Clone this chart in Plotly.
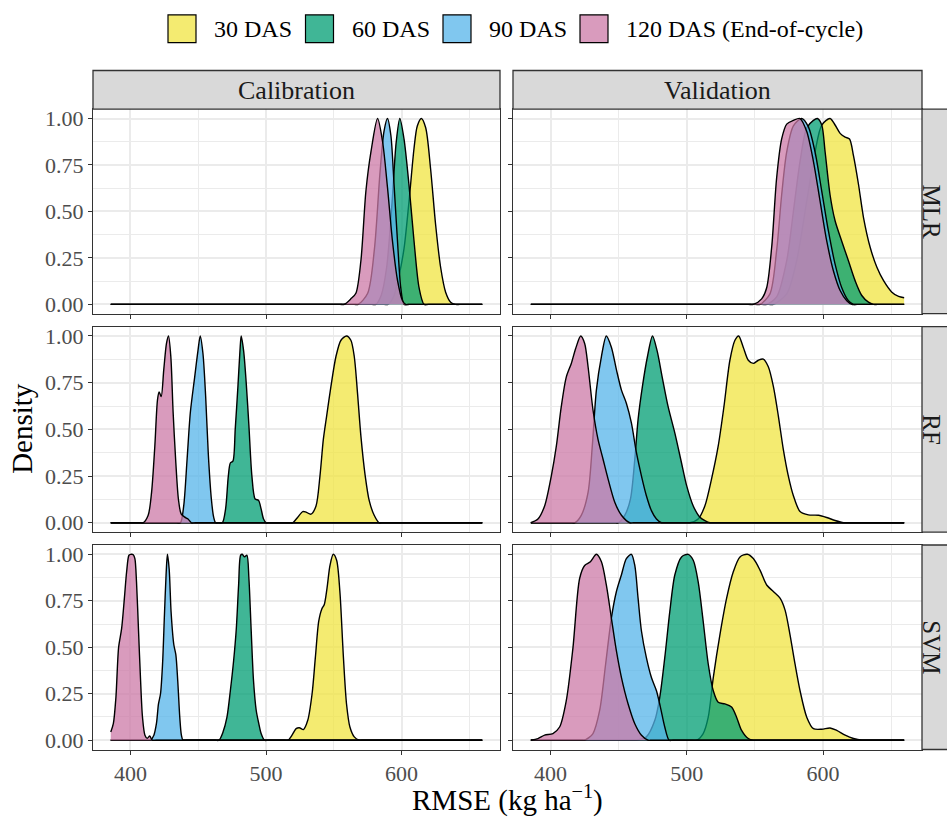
import plotly.graph_objects as go

# ---------------- data ----------------
groups = ["30 DAS", "60 DAS", "90 DAS", "120 DAS (End-of-cycle)"]
colors = ["#F0E442", "#009E73", "#56B4E9", "#CC79A7"]
models = ["MLR", "RF", "SVM"]
datasets = ["Calibration", "Validation"]
x_ticks = [400, 500, 600]
x_minor = [450, 550, 650]
y_ticks = [0, 0.25, 0.5, 0.75, 1.0]
y_tick_labels = ["0.00", "0.25", "0.50", "0.75", "1.00"]
y_minor = [0.125, 0.375, 0.625, 0.875]

# MLR - Calibration
mlr_cal_30_x = [385.5, 587, 590, 594, 598, 601.8, 605.5, 609.2, 611.6, 614.6, 617.8, 621.4, 625.1, 628.8, 632.5, 636.2, 639.8, 643, 659.5]
mlr_cal_30_y = [0, 0, 0, 0.04, 0.15, 0.3, 0.555, 0.84, 0.96, 1.0, 0.95, 0.73, 0.43, 0.2, 0.066, 0.012, 0, 0, 0]
mlr_cal_60_x = [385.5, 578, 581, 585, 589, 593, 596, 598.7, 601.8, 605.5, 609.2, 612.9, 616.6, 620, 659.5]
mlr_cal_60_y = [0, 0, 0, 0.05, 0.2, 0.55, 0.87, 1.0, 0.89, 0.64, 0.34, 0.09, 0, 0, 0]
mlr_cal_90_x = [385.5, 565, 568, 575, 580, 584, 587, 589.6, 592.1, 594.5, 597.0, 599.4, 601.8, 605, 659.5]
mlr_cal_90_y = [0, 0, 0, 0.06, 0.3, 0.7, 0.93, 1.0, 0.91, 0.64, 0.34, 0.09, 0, 0, 0]
mlr_cal_120_x = [385.5, 554.5, 557.7, 562.6, 566.3, 570.0, 573.7, 577.4, 582.3, 586.0, 589.6, 593.3, 597.0, 600.7, 603.1, 606, 659.5]
mlr_cal_120_y = [0, 0, 0, 0.03, 0.06, 0.235, 0.61, 0.82, 1.0, 0.875, 0.63, 0.34, 0.13, 0.02, 0, 0, 0]

# MLR - Validation
mlr_val_30_x = [385.5, 560, 563.5, 573.3, 580.6, 588.0, 594.1, 599.0, 605.1, 608.8, 612.5, 616.2, 619.4, 622.3, 626.0, 629.7, 634.6, 639.5, 644.4, 650.5, 655.4, 659.5]
mlr_val_30_y = [0, 0, 0, 0.057, 0.235, 0.555, 0.82, 0.965, 1.0, 0.965, 0.92, 0.90, 0.89, 0.80, 0.645, 0.466, 0.306, 0.2, 0.128, 0.066, 0.043, 0.036]
mlr_val_60_x = [385.5, 555, 558.6, 565.9, 573.3, 578.2, 583.1, 588.0, 592.9, 595.8, 599.0, 601.5, 605.1, 608.8, 613.7, 618.6, 623.5, 628.4, 633.3, 637.0, 640, 659.5]
mlr_val_60_y = [0, 0, 0, 0.04, 0.235, 0.50, 0.77, 0.95, 0.99, 1.0, 0.965, 0.82, 0.59, 0.45, 0.34, 0.235, 0.128, 0.048, 0.012, 0, 0, 0]
mlr_val_90_x = [385.5, 550, 553.7, 561.0, 565.9, 569.6, 573.3, 578.2, 584.3, 589.2, 594.1, 599.0, 603.9, 608.8, 613.7, 618.6, 622.3, 625, 659.5]
mlr_val_90_y = [0, 0, 0, 0.057, 0.29, 0.59, 0.82, 0.96, 1.0, 0.955, 0.82, 0.61, 0.395, 0.217, 0.09, 0.02, 0, 0, 0]
mlr_val_120_x = [385.5, 545, 548.8, 554.9, 558.6, 562.3, 565.9, 569.6, 573.3, 578.2, 583.1, 588.0, 592.9, 597.8, 602.7, 607.6, 612.5, 617.4, 621.1, 624, 659.5]
mlr_val_120_y = [0, 0, 0, 0.03, 0.09, 0.31, 0.68, 0.89, 0.97, 0.99, 1.0, 0.93, 0.77, 0.555, 0.34, 0.18, 0.075, 0.02, 0, 0, 0]

# RF - Calibration
rf_cal_30_x = [385.5, 516.5, 519.7, 523.4, 527.1, 529.5, 533.2, 536.9, 539.8, 542.3, 544.7, 547.9, 551.6, 555.3, 559.4, 562.6, 565.1, 567.5, 570.0, 573.2, 576.1, 579.8, 583.5, 586.5, 659.5]
rf_cal_30_y = [0, 0, 0, 0.03, 0.06, 0.057, 0.046, 0.09, 0.25, 0.446, 0.57, 0.73, 0.89, 0.977, 1.0, 0.977, 0.89, 0.694, 0.464, 0.25, 0.12, 0.04, 0, 0, 0]
rf_cal_60_x = [385.5, 465, 467.8, 470.2, 472.2, 473.7, 475.6, 477.3, 479.3, 480.8, 481.7, 483.5, 485.4, 487.4, 489.6, 492.0, 494.5, 496.4, 498.2, 500.1, 503, 659.5]
rf_cal_60_y = [0, 0, 0, 0.074, 0.25, 0.32, 0.33, 0.50, 0.73, 0.92, 1.0, 0.92, 0.75, 0.52, 0.25, 0.127, 0.12, 0.074, 0.02, 0, 0, 0]
rf_cal_90_x = [385.5, 434, 436.9, 439.3, 441.8, 444.2, 447.4, 449.8, 451.5, 453.5, 455.5, 457.4, 459.7, 461.4, 462.9, 466, 659.5]
rf_cal_90_y = [0, 0, 0, 0.09, 0.34, 0.59, 0.78, 0.92, 1.0, 0.906, 0.676, 0.375, 0.127, 0.03, 0, 0, 0]
rf_cal_120_x = [385.5, 406.5, 409.4, 413.1, 415.6, 418.0, 420.0, 421.2, 422.7, 424.6, 426.6, 428.1, 429.8, 431.5, 433.5, 435.4, 437.4, 440.1, 442.5, 445.0, 448, 659.5]
rf_cal_120_y = [0, 0, 0, 0.04, 0.163, 0.41, 0.66, 0.70, 0.676, 0.82, 0.96, 1.0, 0.89, 0.59, 0.32, 0.127, 0.048, 0.03, 0.02, 0, 0, 0]

# RF - Validation
rf_val_30_x = [385.5, 499, 502.2, 508.3, 513.2, 518.1, 523.0, 527.2, 531.6, 535.3, 538.0, 541.4, 545.1, 548.8, 552.5, 556.1, 559.8, 563.5, 567.2, 570.8, 574.5, 578.2, 583.1, 589.2, 596.6, 602.7, 608.8, 615.0, 618, 659.5]
rf_val_30_y = [0, 0, 0, 0.02, 0.09, 0.234, 0.41, 0.62, 0.87, 0.977, 1.0, 0.94, 0.87, 0.853, 0.87, 0.876, 0.835, 0.73, 0.57, 0.393, 0.25, 0.145, 0.06, 0.042, 0.04, 0.028, 0.012, 0, 0, 0]
rf_val_60_x = [385.5, 446.5, 449.5, 454.4, 458.6, 461.8, 464.2, 467.4, 471.1, 474.8, 478.2, 481.9, 486.3, 491.2, 496.1, 499.8, 504.7, 509.6, 516.9, 520, 659.5]
rf_val_60_y = [0, 0, 0, 0.04, 0.127, 0.34, 0.552, 0.73, 0.89, 1.0, 0.92, 0.78, 0.62, 0.48, 0.32, 0.2, 0.09, 0.03, 0, 0, 0]
rf_val_90_x = [385.5, 414.5, 417.6, 422.5, 427.5, 430.6, 433.6, 437.3, 440.9, 444.6, 448.3, 452.0, 455.6, 459.3, 463.0, 466.7, 470.3, 474.0, 477.7, 481.4, 484.5, 659.5]
rf_val_90_y = [0, 0, 0, 0.04, 0.163, 0.41, 0.71, 0.89, 1.0, 0.94, 0.82, 0.71, 0.64, 0.535, 0.375, 0.25, 0.145, 0.065, 0.02, 0, 0, 0]
rf_val_120_x = [385.5, 390.7, 395.6, 400.5, 404.2, 407.8, 411.5, 415.2, 418.4, 422.1, 425.0, 427.5, 431.1, 434.8, 438.5, 442.2, 447.1, 452.0, 458.1, 461, 659.5]
rf_val_120_y = [0, 0.02, 0.09, 0.25, 0.41, 0.62, 0.78, 0.853, 0.933, 1.0, 0.96, 0.835, 0.605, 0.446, 0.34, 0.234, 0.11, 0.04, 0, 0, 0]

# SVM - Calibration
svm_cal_30_x = [385.5, 513.5, 516.3, 519.2, 522.2, 524.6, 527.6, 530.8, 534.0, 536.4, 538.9, 541.1, 543.0, 545.0, 547.2, 549.6, 552.1, 554.5, 557.0, 559.4, 561.9, 565.1, 568.8, 572, 659.5]
svm_cal_30_y = [0, 0, 0, 0.027, 0.062, 0.067, 0.057, 0.107, 0.25, 0.444, 0.64, 0.705, 0.73, 0.817, 0.94, 1.0, 0.968, 0.8, 0.46, 0.195, 0.071, 0.018, 0, 0, 0]
svm_cal_60_x = [385.5, 462.5, 465.3, 468.3, 471.2, 473.7, 476.1, 478.1, 479.8, 481.3, 482.5, 484.2, 485.9, 487.4, 489.1, 490.8, 492.8, 494.7, 496.4, 498.9, 502, 659.5]
svm_cal_60_y = [0, 0, 0, 0.044, 0.124, 0.266, 0.426, 0.60, 0.835, 0.995, 1.0, 0.986, 0.995, 0.87, 0.586, 0.32, 0.16, 0.089, 0.036, 0, 0, 0]
svm_cal_90_x = [385.5, 412, 414.8, 417.3, 419.2, 420.7, 422.2, 423.7, 425.1, 426.3, 427.3, 428.6, 430.0, 432.0, 433.5, 434.9, 436.4, 437.6, 438.8, 441.5, 659.5]
svm_cal_90_y = [0, 0, 0, 0.027, 0.09, 0.195, 0.25, 0.41, 0.675, 0.89, 1.0, 0.92, 0.69, 0.515, 0.46, 0.32, 0.124, 0.027, 0, 0, 0]
svm_cal_120_x = [385.5, 387.4, 389.3, 391.3, 393.5, 395.5, 397.2, 398.9, 400.1, 402.1, 403.3, 404.5, 406.0, 407.5, 408.9, 410.7, 412.4, 414.3, 416.1, 419, 659.5]
svm_cal_120_y = [0.044, 0.089, 0.23, 0.50, 0.60, 0.76, 0.906, 0.995, 1.0, 0.998, 0.977, 0.85, 0.586, 0.32, 0.124, 0.027, 0.01, 0.023, 0, 0, 0]

# SVM - Validation
svm_val_30_x = [385.5, 504, 507.1, 512.0, 515.7, 519.4, 524.3, 529.2, 534.1, 539.0, 544.4, 548.8, 553.7, 558.6, 563.5, 568.4, 572.1, 575.7, 579.4, 583.1, 588.0, 592.9, 599.0, 605.1, 610.0, 616.2, 622.3, 628.4, 631.5, 659.5]
svm_val_30_y = [0, 0, 0, 0.036, 0.124, 0.337, 0.568, 0.764, 0.906, 0.986, 1.0, 0.977, 0.915, 0.835, 0.8, 0.764, 0.70, 0.568, 0.41, 0.266, 0.124, 0.062, 0.059, 0.066, 0.053, 0.027, 0.009, 0, 0, 0]
svm_val_60_x = [385.5, 460, 463.0, 470.3, 476.5, 480.1, 483.8, 487.5, 491.2, 496.1, 501.0, 504.7, 508.3, 512.0, 515.7, 519.4, 523.0, 527.9, 532.8, 536.5, 540.2, 545.1, 548.8, 552, 659.5]
svm_val_60_y = [0, 0, 0, 0.018, 0.107, 0.23, 0.444, 0.693, 0.89, 0.986, 1.0, 0.968, 0.853, 0.64, 0.41, 0.266, 0.204, 0.195, 0.178, 0.124, 0.053, 0.009, 0, 0, 0]
svm_val_90_x = [385.5, 422, 425.0, 431.1, 436.0, 440.4, 444.6, 448.3, 452.0, 455.6, 459.3, 461.8, 464.2, 466.7, 470.3, 474.0, 477.7, 480.6, 483.8, 487.0, 490, 659.5]
svm_val_90_y = [0, 0, 0, 0.036, 0.16, 0.41, 0.657, 0.8, 0.89, 0.977, 1.0, 0.94, 0.764, 0.586, 0.444, 0.337, 0.266, 0.178, 0.071, 0, 0, 0]
svm_val_120_x = [385.5, 390.7, 395.6, 401.7, 406.6, 411.5, 416.4, 421.3, 425.0, 429.2, 433.6, 437.3, 440.9, 444.6, 448.3, 452.0, 456.9, 461.8, 466.7, 471.6, 474.5, 659.5]
svm_val_120_y = [0, 0.009, 0.027, 0.036, 0.071, 0.213, 0.497, 0.87, 0.94, 0.96, 1.0, 0.96, 0.835, 0.657, 0.48, 0.337, 0.195, 0.089, 0.027, 0, 0, 0]

curves = {
    ("MLR", "Calibration"): [(mlr_cal_30_x, mlr_cal_30_y), (mlr_cal_60_x, mlr_cal_60_y), (mlr_cal_90_x, mlr_cal_90_y), (mlr_cal_120_x, mlr_cal_120_y)],
    ("MLR", "Validation"): [(mlr_val_30_x, mlr_val_30_y), (mlr_val_60_x, mlr_val_60_y), (mlr_val_90_x, mlr_val_90_y), (mlr_val_120_x, mlr_val_120_y)],
    ("RF", "Calibration"): [(rf_cal_30_x, rf_cal_30_y), (rf_cal_60_x, rf_cal_60_y), (rf_cal_90_x, rf_cal_90_y), (rf_cal_120_x, rf_cal_120_y)],
    ("RF", "Validation"): [(rf_val_30_x, rf_val_30_y), (rf_val_60_x, rf_val_60_y), (rf_val_90_x, rf_val_90_y), (rf_val_120_x, rf_val_120_y)],
    ("SVM", "Calibration"): [(svm_cal_30_x, svm_cal_30_y), (svm_cal_60_x, svm_cal_60_y), (svm_cal_90_x, svm_cal_90_y), (svm_cal_120_x, svm_cal_120_y)],
    ("SVM", "Validation"): [(svm_val_30_x, svm_val_30_y), (svm_val_60_x, svm_val_60_y), (svm_val_90_x, svm_val_90_y), (svm_val_120_x, svm_val_120_y)],
}

# ---------------- layout helpers ----------------
W, H = 947, 822
FONT = "Liberation Serif, Times New Roman, serif"
ALPHA = 0.75


def rgba(hex_color, a):
    h = hex_color.lstrip("#")
    return "rgba(%d,%d,%d,%.2f)" % (int(h[0:2], 16), int(h[2:4], 16), int(h[4:6], 16), a)


def px(v):
    return v / W


def py(v):
    return 1 - v / H


col_px = [(93, 500), (513, 922)]
row_px = [(107, 313), (326, 533), (546, 752)]

fig = go.Figure()

for r, model in enumerate(models):
    for c, ds in enumerate(datasets):
        idx = r * 2 + c + 1
        xa = "x" if idx == 1 else "x%d" % idx
        ya = "y" if idx == 1 else "y%d" % idx
        for g, (xs, ys) in enumerate(curves[(model, ds)]):
            fig.add_trace(go.Scatter(
                x=xs, y=ys, xaxis=xa, yaxis=ya, mode="lines",
                line=dict(color="black", width=1.4, shape="spline", smoothing=0.8),
                fill="tozeroy", fillcolor=rgba(colors[g], ALPHA),
                name=groups[g], showlegend=False, hoverinfo="skip",
            ))
        axis_common = dict(
            showline=True, mirror=True, linecolor="#333333", linewidth=1.3,
            ticks="outside", ticklen=4, tickcolor="#333333", tickwidth=1.3,
            showgrid=True, gridcolor="#EBEBEB", gridwidth=1.6, zeroline=False,
            tickfont=dict(family=FONT, size=22, color="#4D4D4D"),
        )
        xkey = "xaxis" if idx == 1 else "xaxis%d" % idx
        ykey = "yaxis" if idx == 1 else "yaxis%d" % idx
        fig.layout[xkey] = dict(
            axis_common,
            domain=[px(col_px[c][0]), px(col_px[c][1])],
            anchor=ya, range=[372.4, 672.6],
            tickmode="array", tickvals=x_ticks,
            showticklabels=(r == 2),
            minor=dict(tickmode="array", tickvals=x_minor, showgrid=True,
                       gridcolor="#EBEBEB", gridwidth=0.9, ticks=""),
        )
        fig.layout[ykey] = dict(
            axis_common,
            domain=[py(row_px[r][1]), py(row_px[r][0])],
            anchor=xa, range=[-0.05, 1.05],
            tickmode="array", tickvals=y_ticks, ticktext=y_tick_labels,
            showticklabels=(c == 0),
            minor=dict(tickmode="array", tickvals=y_minor, showgrid=True,
                       gridcolor="#EBEBEB", gridwidth=0.9, ticks=""),
        )

shapes = []
annotations = []

# top strips
for c, ds in enumerate(datasets):
    shapes.append(dict(type="rect", xref="paper", yref="paper",
                       x0=px(col_px[c][0]), x1=px(col_px[c][1]), y0=py(107), y1=py(68),
                       fillcolor="#D9D9D9", line=dict(color="#333333", width=1.3)))
    annotations.append(dict(text=ds, xref="paper", yref="paper",
                            x=px((col_px[c][0] + col_px[c][1]) / 2), y=py(88),
                            showarrow=False, xanchor="center", yanchor="middle",
                            font=dict(family=FONT, size=26, color="#1A1A1A")))
# right strips
for r, model in enumerate(models):
    shapes.append(dict(type="rect", xref="paper", yref="paper",
                       x0=px(922), x1=px(962), y0=py(row_px[r][1]), y1=py(row_px[r][0]),
                       fillcolor="#D9D9D9", line=dict(color="#333333", width=1.3)))
    annotations.append(dict(text=model, xref="paper", yref="paper",
                            x=px(932), y=py((row_px[r][0] + row_px[r][1]) / 2),
                            showarrow=False, xanchor="center", yanchor="middle", textangle=90,
                            borderpad=0,
                            font=dict(family=FONT, size=25, color="#1A1A1A")))

# axis titles
annotations.append(dict(text="Density", xref="paper", yref="paper", x=px(22), y=py(429),
                        showarrow=False, textangle=-90, xanchor="center", yanchor="middle",
                        font=dict(family=FONT, size=29, color="black")))
annotations.append(dict(text="RMSE (kg ha<sup>\u22121</sup>)", xref="paper", yref="paper",
                        x=px(507.5), y=py(801), showarrow=False, xanchor="center", yanchor="middle",
                        font=dict(family=FONT, size=29, color="black")))

# legend (top)
leg_sw_left = [168, 305.5, 443, 580]
for g, name in enumerate(groups):
    x0 = leg_sw_left[g]
    shapes.append(dict(type="rect", xref="paper", yref="paper",
                       x0=px(x0), x1=px(x0 + 28), y0=py(40), y1=py(12),
                       fillcolor=rgba(colors[g], ALPHA), line=dict(color="black", width=1.2)))
    annotations.append(dict(text=name, xref="paper", yref="paper", x=px(x0 + 44), y=py(26.5),
                            showarrow=False, xanchor="left", yanchor="middle",
                            font=dict(family=FONT, size=24, color="black")))

fig.update_layout(
    width=W, height=H, margin=dict(l=0, r=0, t=0, b=0),
    paper_bgcolor="white", plot_bgcolor="white",
    shapes=shapes, annotations=annotations, showlegend=False,
)

fig.write_html("out.html", config={"displayModeBar": False},
               post_script="document.body.style.margin='0';document.body.style.overflow='hidden';")
